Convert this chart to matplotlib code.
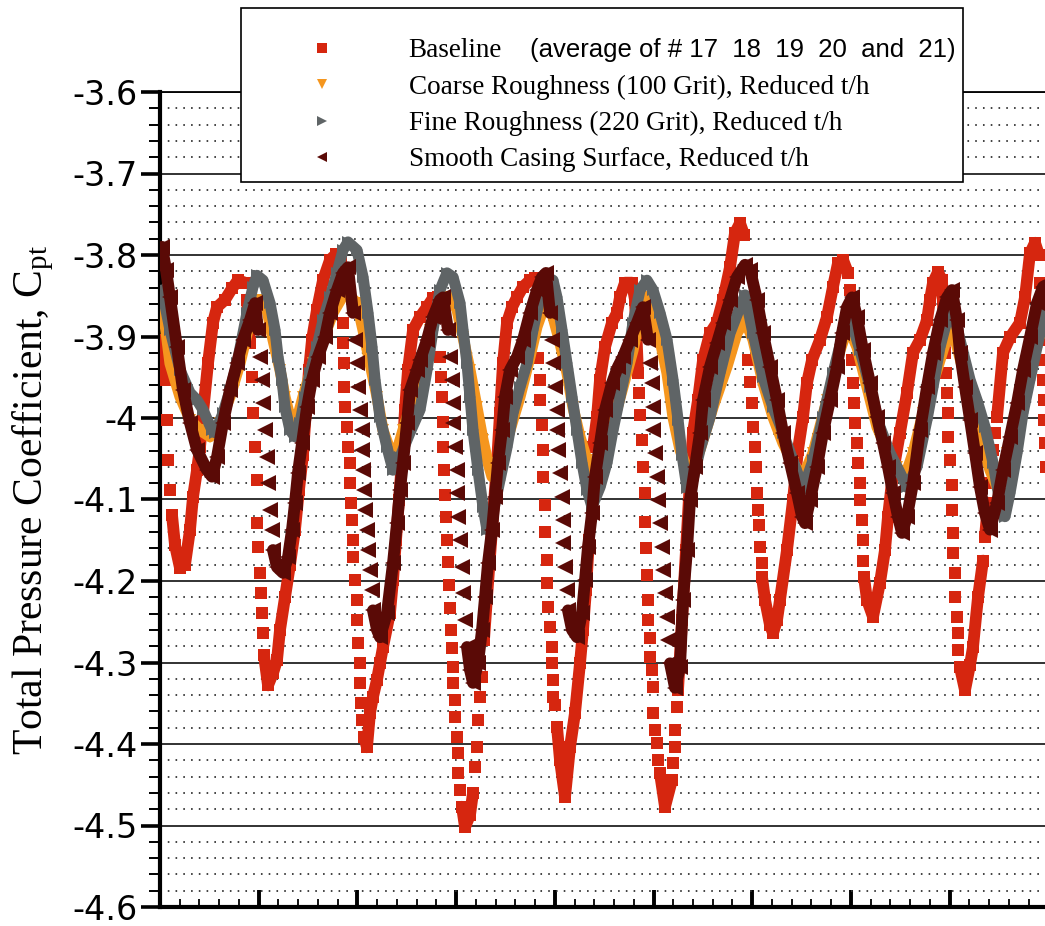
import matplotlib
matplotlib.use("Agg")
import matplotlib.pyplot as plt
import numpy as np
from matplotlib.lines import Line2D
from matplotlib.patches import Rectangle
from matplotlib.ticker import FixedLocator, MultipleLocator, FuncFormatter

# ---------------- data (x: position, one major x tick = 98.7 units; y: Cpt) ----------------
baseline_pts = [
    (2, -3.904), (5, -3.953), (7, -4.002), (8, -4.052), (10, -4.088), (12, -4.119), (15, -4.156),
    (20, -4.184), (25, -4.180), (30, -4.137), (33, -4.097), (37, -4.064), (40, -4.036), (43, -3.994),
    (48, -3.933), (53, -3.883), (57, -3.864), (65, -3.855), (72, -3.841), (78, -3.831), (85, -3.834),
    (87, -3.855), (90, -3.908), (92, -3.950), (93, -3.994), (95, -4.036), (97, -4.076), (97, -4.129),
    (98, -4.158), (100, -4.190), (101, -4.215), (102, -4.239), (103, -4.264), (104, -4.291), (108, -4.328),
    (113, -4.313), (117, -4.297), (120, -4.260), (125, -4.220), (130, -4.180), (135, -4.137), (139, -4.088),
    (143, -4.045), (146, -3.990), (149, -3.941), (152, -3.904), (157, -3.867), (163, -3.831), (170, -3.806),
    (176, -3.799), (181, -3.809), (183, -3.883), (183, -3.908), (184, -3.933), (184, -3.962), (185, -3.987),
    (187, -4.011), (188, -4.036), (190, -4.055), (190, -4.080), (191, -4.104), (192, -4.125), (193, -4.150),
    (193, -4.171), (195, -4.199), (197, -4.223), (197, -4.248), (198, -4.276), (200, -4.301), (200, -4.325),
    (201, -4.350), (202, -4.371), (204, -4.391), (207, -4.404), (210, -4.362), (213, -4.342), (217, -4.321),
    (220, -4.301), (223, -4.281), (230, -4.239), (233, -4.199), (236, -4.150), (239, -4.101), (242, -4.052),
    (245, -3.990), (248, -3.941), (253, -3.892), (260, -3.876), (267, -3.864), (273, -3.853), (278, -3.852),
    (280, -3.867), (280, -3.925), (281, -3.950), (282, -3.974), (283, -4.005), (283, -4.036), (284, -4.064),
    (285, -4.094), (286, -4.121), (287, -4.150), (288, -4.177), (289, -4.205), (290, -4.233), (291, -4.260),
    (292, -4.282), (293, -4.306), (293, -4.325), (295, -4.346), (295, -4.367), (297, -4.391), (298, -4.411),
    (298, -4.436), (300, -4.456), (302, -4.477), (305, -4.502), (310, -4.487), (313, -4.460), (315, -4.428),
    (317, -4.404), (318, -4.371), (320, -4.342), (322, -4.318), (324, -4.272), (327, -4.220), (332, -4.137),
    (337, -4.055), (340, -3.994), (343, -3.933), (347, -3.883), (352, -3.864), (357, -3.852), (363, -3.839),
    (370, -3.831), (375, -3.828), (377, -3.880), (378, -3.926), (380, -3.953), (380, -3.978), (382, -4.009),
    (383, -4.039), (383, -4.072), (385, -4.107), (385, -4.140), (387, -4.174), (387, -4.202), (388, -4.232),
    (390, -4.256), (392, -4.281), (392, -4.301), (393, -4.321), (393, -4.342), (395, -4.352), (397, -4.379),
    (400, -4.420), (405, -4.465), (410, -4.404), (415, -4.362), (420, -4.301), (423, -4.260), (426, -4.211),
    (429, -4.150), (431, -4.088), (433, -4.036), (437, -3.999), (440, -3.953), (445, -3.913), (452, -3.883),
    (457, -3.871), (460, -3.852), (465, -3.834), (472, -3.834), (475, -3.855), (478, -3.945), (479, -3.969),
    (480, -3.996), (482, -4.027), (483, -4.060), (485, -4.092), (485, -4.128), (486, -4.160), (487, -4.193),
    (488, -4.223), (488, -4.248), (490, -4.270), (490, -4.293), (492, -4.309), (493, -4.330), (493, -4.362),
    (495, -4.383), (497, -4.399), (498, -4.420), (500, -4.436), (505, -4.477), (512, -4.444), (513, -4.423),
    (515, -4.404), (515, -4.383), (517, -4.355), (518, -4.334), (522, -4.248), (526, -4.162), (530, -4.076),
    (533, -4.018), (538, -3.978), (543, -3.929), (550, -3.896), (557, -3.883), (563, -3.855), (570, -3.815),
    (575, -3.773), (580, -3.761), (584, -3.775), (586, -3.855), (588, -3.929), (590, -3.956), (592, -3.982),
    (593, -4.011), (595, -4.036), (596, -4.060), (597, -4.092), (598, -4.113), (599, -4.131), (600, -4.158),
    (602, -4.178), (602, -4.195), (605, -4.223), (610, -4.254), (613, -4.264), (617, -4.248), (620, -4.223),
    (627, -4.162), (633, -4.101), (638, -4.039), (643, -3.999), (647, -3.957), (652, -3.929), (660, -3.904),
    (667, -3.876), (673, -3.839), (678, -3.810), (683, -3.806), (688, -3.822), (690, -3.843), (692, -3.929),
    (693, -3.957), (694, -3.982), (695, -4.006), (697, -4.031), (698, -4.055), (700, -4.080), (700, -4.101),
    (702, -4.125), (703, -4.150), (703, -4.175), (704, -4.195), (707, -4.223), (713, -4.244), (720, -4.202),
    (725, -4.162), (728, -4.121), (733, -4.067), (740, -4.018), (747, -3.969), (753, -3.920), (760, -3.904),
    (767, -3.880), (770, -3.855), (773, -3.834), (778, -3.821), (782, -3.831), (785, -3.920), (786, -3.945),
    (787, -3.969), (788, -3.994), (788, -4.023), (790, -4.052), (792, -4.082), (792, -4.113), (793, -4.141),
    (793, -4.166), (795, -4.190), (795, -4.220), (797, -4.244), (798, -4.264), (798, -4.285), (800, -4.306),
    (805, -4.334), (810, -4.303), (813, -4.281), (818, -4.220), (823, -4.175), (825, -4.146), (828, -4.104),
    (830, -4.080), (832, -4.060), (833, -4.039), (835, -4.018), (837, -3.999), (843, -3.920), (850, -3.901),
    (860, -3.883), (865, -3.852), (870, -3.798), (875, -3.785), (879, -3.800), (880, -3.834), (882, -3.904),
    (883, -3.929), (883, -3.953), (884, -3.978), (884, -4.002), (885, -4.031), (886, -4.060),
]

coarse_pts = [
    (2, -3.855), (10, -3.933), (20, -3.974), (30, -4.002), (40, -4.015), (50, -4.023), (60, -4.006),
    (70, -3.974), (80, -3.933), (88, -3.892), (93, -3.859), (100, -3.855), (107, -3.867), (113, -3.904),
    (120, -3.941), (125, -3.974), (130, -3.999), (135, -4.011), (143, -3.974), (153, -3.933), (163, -3.904),
    (173, -3.871), (182, -3.852), (187, -3.847), (197, -3.859), (203, -3.892), (210, -3.933), (217, -3.974),
    (223, -4.015), (230, -4.039), (235, -4.048), (243, -4.015), (253, -3.974), (260, -3.941), (270, -3.892),
    (280, -3.864), (290, -3.852), (297, -3.867), (303, -3.901), (310, -3.941), (317, -3.987), (323, -4.027),
    (328, -4.055), (332, -4.072), (340, -4.055), (350, -4.015), (360, -3.974), (370, -3.925), (377, -3.888),
    (383, -3.867), (388, -3.859), (393, -3.876), (400, -3.908), (407, -3.945), (413, -3.987), (420, -4.023),
    (427, -4.052), (433, -4.067), (443, -4.048), (453, -4.006), (463, -3.962), (473, -3.917), (480, -3.876),
    (487, -3.852), (493, -3.871), (500, -3.904), (507, -3.945), (513, -3.999), (520, -4.039), (530, -4.072),
    (540, -4.039), (553, -3.987), (567, -3.937), (577, -3.896), (585, -3.880), (593, -3.904), (603, -3.957),
    (613, -3.999), (623, -4.031), (633, -4.055), (643, -4.072), (653, -4.043), (667, -3.978), (680, -3.917),
    (688, -3.888), (697, -3.913), (707, -3.962), (717, -4.011), (727, -4.039), (737, -4.060), (745, -4.072),
    (753, -4.043), (763, -3.994), (777, -3.941), (787, -3.901), (792, -3.888), (803, -3.941), (813, -3.987),
    (823, -4.036), (830, -4.064), (837, -4.085), (847, -4.043), (857, -3.994), (867, -3.945), (877, -3.904),
    (886, -3.888),
]

fine_pts = [
    (2, -3.843), (10, -3.892), (20, -3.941), (30, -3.969), (37, -3.978), (43, -3.990), (52, -4.015),
    (55, -4.018), (63, -3.994), (70, -3.966), (77, -3.933), (87, -3.871), (93, -3.839), (97, -3.825),
    (103, -3.831), (110, -3.859), (115, -3.892), (118, -3.925), (122, -3.953), (125, -3.987), (130, -4.015),
    (135, -4.023), (140, -4.006), (145, -3.974), (150, -3.945), (157, -3.913), (163, -3.880), (170, -3.852),
    (177, -3.822), (183, -3.794), (188, -3.784), (197, -3.794), (203, -3.827), (208, -3.871), (212, -3.913),
    (215, -3.953), (220, -3.999), (227, -4.036), (233, -4.064), (240, -4.048), (250, -4.018), (260, -3.990),
    (267, -3.941), (273, -3.892), (280, -3.843), (287, -3.822), (293, -3.827), (300, -3.859), (303, -3.892),
    (307, -3.933), (310, -3.974), (313, -4.015), (318, -4.064), (323, -4.109), (327, -4.137), (333, -4.117),
    (340, -4.076), (347, -4.036), (353, -3.994), (360, -3.962), (367, -3.933), (373, -3.892), (380, -3.852),
    (387, -3.827), (393, -3.831), (397, -3.852), (402, -3.892), (407, -3.933), (412, -3.974), (417, -4.015),
    (422, -4.055), (427, -4.088), (432, -4.109), (440, -4.085), (447, -4.055), (453, -4.015), (460, -3.974),
    (467, -3.933), (473, -3.883), (480, -3.843), (487, -3.831), (493, -3.843), (500, -3.871), (507, -3.904),
    (513, -3.953), (518, -4.002), (522, -4.045), (527, -4.086), (533, -4.076), (540, -4.039), (550, -3.999),
    (560, -3.945), (570, -3.896), (580, -3.864), (585, -3.849), (593, -3.896), (603, -3.950), (613, -3.987),
    (623, -4.018), (633, -4.052), (640, -4.076), (643, -4.088), (653, -4.052), (663, -3.999), (673, -3.945),
    (683, -3.896), (690, -3.876), (700, -3.917), (710, -3.962), (720, -4.011), (730, -4.043), (740, -4.067),
    (747, -4.085), (757, -4.060), (767, -4.002), (773, -3.962), (780, -3.913), (787, -3.880), (792, -3.864),
    (800, -3.904), (810, -3.953), (817, -3.978), (825, -4.011), (833, -4.055), (840, -4.104), (845, -4.121),
    (850, -4.092), (857, -4.043), (863, -3.994), (870, -3.953), (877, -3.913), (883, -3.880), (886, -3.867),
]

smooth_pts = [
    (2, -3.790), (6, -3.818), (10, -3.852), (17, -3.913), (23, -3.966), (30, -4.006), (37, -4.039),
    (47, -4.064), (52, -4.072), (57, -4.048), (63, -4.006), (70, -3.966), (77, -3.933), (83, -3.904),
    (90, -3.880), (95, -3.859), (98, -3.892), (100, -3.925), (102, -3.953), (103, -3.982), (105, -4.015),
    (107, -4.048), (108, -4.080), (110, -4.113), (112, -4.137), (113, -4.162), (117, -4.183), (123, -4.190),
    (128, -4.171), (132, -4.137), (135, -4.104), (138, -4.067), (142, -4.031), (147, -3.987), (152, -3.953),
    (158, -3.925), (165, -3.901), (170, -3.871), (177, -3.843), (183, -3.822), (188, -3.815), (193, -3.871),
    (195, -3.904), (197, -3.933), (198, -3.962), (200, -3.990), (202, -4.015), (202, -4.039), (203, -4.064),
    (204, -4.088), (205, -4.113), (207, -4.137), (208, -4.162), (210, -4.187), (212, -4.211), (213, -4.236),
    (217, -4.260), (220, -4.269), (227, -4.239), (233, -4.178), (237, -4.129), (240, -4.088), (243, -4.055),
    (247, -4.006), (250, -3.966), (257, -3.941), (260, -3.929), (267, -3.904), (273, -3.876), (280, -3.855),
    (283, -3.852), (288, -3.892), (290, -3.925), (292, -3.953), (293, -3.982), (293, -4.006), (295, -4.036),
    (297, -4.064), (297, -4.092), (298, -4.121), (300, -4.150), (302, -4.183), (303, -4.215), (305, -4.248),
    (307, -4.281), (310, -4.309), (313, -4.325), (318, -4.301), (322, -4.260), (325, -4.220), (328, -4.178),
    (332, -4.137), (335, -4.097), (338, -4.055), (342, -4.015), (345, -3.974), (350, -3.941), (357, -3.925),
    (363, -3.904), (370, -3.871), (377, -3.843), (382, -3.827), (386, -3.822), (390, -3.871), (392, -3.904),
    (393, -3.933), (395, -3.962), (397, -3.990), (397, -4.015), (398, -4.039), (400, -4.067), (402, -4.097),
    (403, -4.125), (403, -4.153), (405, -4.183), (407, -4.211), (408, -4.236), (412, -4.260), (417, -4.269),
    (422, -4.239), (425, -4.199), (428, -4.158), (432, -4.117), (435, -4.072), (440, -4.031), (445, -3.990),
    (452, -3.957), (458, -3.937), (463, -3.925), (470, -3.904), (477, -3.883), (483, -3.864), (488, -3.904),
    (490, -3.933), (492, -3.957), (493, -3.987), (493, -4.015), (495, -4.043), (497, -4.072), (498, -4.101),
    (500, -4.129), (502, -4.158), (503, -4.187), (505, -4.215), (507, -4.244), (508, -4.272), (510, -4.301),
    (515, -4.331), (520, -4.306), (523, -4.223), (527, -4.162), (530, -4.101), (535, -4.060), (540, -4.018),
    (543, -3.978), (550, -3.937), (557, -3.908), (563, -3.883), (570, -3.855), (577, -3.827), (585, -3.812),
    (590, -3.818), (597, -3.855), (603, -3.896), (610, -3.937), (617, -3.978), (623, -4.018), (630, -4.055),
    (637, -4.092), (642, -4.121), (645, -4.129), (650, -4.101), (657, -4.060), (663, -4.018), (670, -3.978),
    (677, -3.937), (682, -3.896), (687, -3.864), (692, -3.852), (697, -3.876), (703, -3.917), (710, -3.957),
    (717, -3.999), (723, -4.031), (728, -4.060), (733, -4.092), (738, -4.121), (742, -4.141), (747, -4.121),
    (753, -4.080), (760, -4.015), (767, -3.962), (773, -3.920), (780, -3.880), (787, -3.852), (792, -3.843),
    (797, -3.880), (800, -3.920), (805, -3.962), (810, -4.002), (815, -4.043), (820, -4.085), (825, -4.117),
    (830, -4.137), (837, -4.104), (843, -4.064), (850, -4.023), (857, -3.982), (863, -3.941), (870, -3.901),
    (877, -3.859), (883, -3.839), (886, -3.837),
]

series_labels = [
    "Baseline",
    "Coarse Roughness (100 Grit), Reduced t/h",
    "Fine Roughness (220 Grit), Reduced t/h",
    "Smooth Casing Surface, Reduced t/h",
]
baseline_note = "(average of # 17  18  19  20  and  21)"
y_major_ticks = [-4.6, -4.5, -4.4, -4.3, -4.2, -4.1, -4.0, -3.9, -3.8, -3.7, -3.6]
x_major_ticks = [0, 98.7, 197.4, 296.1, 394.8, 493.5, 592.2, 690.9, 789.6]
x_limits = (0, 885)
y_limits = (-4.6, -3.6)
y_label = r"Total Pressure Coefficient, C$_{\rm pt}$"

# ---------------- styling ----------------
plt.rcParams['mathtext.fontset'] = 'custom'
plt.rcParams['mathtext.rm'] = 'Liberation Serif'
plt.rcParams['mathtext.it'] = 'Liberation Serif:italic'

W, H = 1045, 926
fig = plt.figure(figsize=(W / 100, H / 100), dpi=100)
fig.patch.set_facecolor('white')
ax = fig.add_axes([160 / W, 19 / H, 885 / W, 815 / H])

styles = [
    dict(marker='s', color='#D6260F', ms=8.5, lw=8.5),
    dict(marker='v', color='#F5961E', ms=9.0, lw=8.0),
    dict(marker='>', color='#5F6466', ms=9.0, lw=8.0),
    dict(marker='<', color='#5A0A06', ms=11.0, lw=8.5),
]
all_series = [baseline_pts, coarse_pts, fine_pts, smooth_pts]

# Samples closer than this in x are steep drops: the reference shows them as
# separate markers rather than a continuous band.
STEP_MIN = 3

for i, (pts, st) in enumerate(zip(all_series, styles)):
    xs = [p[0] for p in pts]
    ys = [p[1] for p in pts]
    runs, cur = [], [0]
    for k in range(1, len(xs)):
        if xs[k] - xs[k - 1] >= STEP_MIN:
            cur.append(k)
        else:
            if len(cur) > 1:
                runs.append(cur)
            cur = [k]
    if len(cur) > 1:
        runs.append(cur)
    for run in runs:
        ax.plot([xs[k] for k in run], [ys[k] for k in run], color=st['color'], lw=st['lw'],
                solid_joinstyle='round', solid_capstyle='round', zorder=3 + i)
    ax.plot(xs, ys, ls='none', marker=st['marker'], ms=st['ms'], mew=0,
            color=st['color'], zorder=3 + i)

ax.set_xlim(*x_limits)
ax.set_ylim(*y_limits)

ax.yaxis.set_major_locator(FixedLocator(y_major_ticks))
ax.yaxis.set_minor_locator(MultipleLocator(0.02))
ax.yaxis.set_major_formatter(FuncFormatter(lambda v, p: f"{round(v, 2):g}"))
ax.xaxis.set_major_locator(FixedLocator(x_major_ticks))
ax.xaxis.set_minor_locator(MultipleLocator(98.7 / 5))

ax.set_axisbelow(True)
ax.yaxis.grid(True, which='major', color='#222222', lw=1.3, linestyle='-')
ax.yaxis.grid(True, which='minor', color='#333333', lw=1.3, linestyle=(0, (0.9, 3.4)))
ax.xaxis.grid(False)

ax.tick_params(axis='y', which='major', direction='out', length=14, width=2.6,
               labelsize=24, pad=2, colors='black')
ax.tick_params(axis='y', which='minor', direction='out', length=8, width=1.4)
ax.tick_params(axis='x', which='major', direction='in', length=12, width=2.8, labelbottom=False)
ax.tick_params(axis='x', which='minor', direction='in', length=6, width=1.3)
ax.tick_params(right=False, top=False)
for lab in ax.get_yticklabels():
    lab.set_family('DejaVu Sans')

ax.spines['left'].set_linewidth(3)
ax.spines['bottom'].set_linewidth(3)
ax.spines['top'].set_linewidth(1.3)
ax.spines['right'].set_visible(False)

ax.set_ylabel(y_label, fontsize=30, family='Liberation Serif')
ax.yaxis.set_label_coords(-0.118, 0.5)

# ---------------- legend ----------------
frame = Rectangle((241 / W, 1 - 182 / H), 722 / W, 174 / H, transform=fig.transFigure,
                  facecolor='white', edgecolor='black', lw=1.2, zorder=10)
fig.add_artist(frame)

handles = [Line2D([], [], ls='none', marker=st['marker'], color=st['color'], ms=7, mew=0)
           for st in styles]
leg = fig.legend(handles, series_labels, loc='upper left',
                 bbox_to_anchor=(295 / W, 1 - 38 / H), bbox_transform=fig.transFigure,
                 frameon=False, prop={'family': 'Liberation Serif', 'size': 19.5},
                 handlelength=2, handletextpad=2.2, labelspacing=0.42,
                 borderpad=0, borderaxespad=0)
leg.set_zorder(11)

fig.canvas.draw()
bb = leg.get_texts()[0].get_window_extent()
yc = (bb.y0 + bb.y1) / 2 / H
fig.text(530 / W, yc, baseline_note, ha='left', va='center', fontsize=18.5,
         family='Liberation Sans', zorder=12)

fig.savefig('out.png', dpi=100, facecolor='white')
